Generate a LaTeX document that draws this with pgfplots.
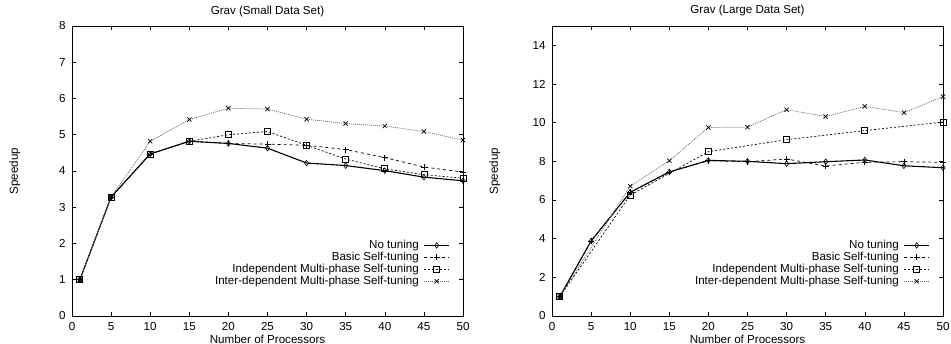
\documentclass[border=0pt]{standalone}
\usepackage{pgfplots}
\pgfplotsset{compat=1.18}
\usepackage{fontspec}
\setmainfont{Liberation Sans}
\begin{document}
\begin{tikzpicture}
\path[use as bounding box] (0pt,0pt) rectangle (951pt,343pt);
\pgfplotsset{
 myaxis/.style={
  scale only axis, width=391pt, height=290pt,
  xmin=0, xmax=50, ymin=0,
  xtick={0,5,...,50},
  tick align=inside, major tick length=4pt,
  axis line style={line width=0.9pt},
  every tick/.style={line width=0.6pt, black},
  font=\fontsize{11.6}{13}\selectfont,
  /pgf/number format/assume math mode=true,
  yticklabel style={xshift=-3pt},
  xticklabel style={yshift=-2.5pt},
  xlabel={Number of Processors},
  ylabel={Speedup},
  xlabel style={at={(axis description cs:0.5,0)}, anchor=center, yshift=-23pt},
  ylabel style={at={(axis description cs:-0.146,0.5)}, anchor=center},
  title style={at={(axis description cs:0.5,1)}, anchor=center, yshift=9pt},
  legend cell align=right,
  legend plot pos=right,
  legend style={draw=none, fill=none, at={(axis description cs:0.975,0.272)}, anchor=north east,
    font=\fontsize{11.6}{13}\selectfont, row sep=0pt, column sep=4pt,
    nodes={inner sep=0.5pt, text height=8.5pt, text depth=2.5pt}},
 },
 s1/.style={black, line width=1.1pt, mark=diamond, mark size=2.8pt, mark options={solid, line width=0.6pt},
   legend image code/.code={\draw[mark repeat=2,mark phase=2,##1] plot coordinates {(0cm,0cm) (0.45cm,0cm) (0.9cm,0cm)};}},
 s2/.style={black, line width=0.7pt, dashed, mark=+, mark size=3pt, mark options={solid, line width=0.7pt},
   legend image code/.code={\draw[mark repeat=2,mark phase=2,##1] plot coordinates {(0cm,0cm) (0.45cm,0cm) (0.9cm,0cm)};}},
 s3/.style={black, line width=0.7pt, dash pattern=on 2pt off 2pt, mark=square, mark size=3pt, mark options={solid, line width=0.7pt},
   legend image code/.code={\draw[mark repeat=2,mark phase=2,##1] plot coordinates {(0cm,0cm) (0.45cm,0cm) (0.9cm,0cm)};}},
 s4/.style={black!60, line width=0.7pt, dash pattern=on 1pt off 1pt, mark=x, mark size=3pt, mark options={solid, black, line width=0.7pt},
   legend image code/.code={\draw[mark repeat=2,mark phase=2,##1] plot coordinates {(0cm,0cm) (0.45cm,0cm) (0.9cm,0cm)};}},
}
\begin{axis}[myaxis, at={(72pt,27pt)}, anchor=south west, ymax=8, ytick={0,1,...,8},
  title={Grav (Small Data Set)}]
\addplot[s1] coordinates {(1,1) (5,3.28) (10,4.47) (15,4.82) (20,4.76) (25,4.63) (30,4.22) (35,4.15) (40,4.01) (45,3.83) (50,3.73)};
\addlegendentry{No tuning}
\addplot[s2] coordinates {(1,1) (5,3.28) (10,4.47) (15,4.82) (20,4.76) (25,4.74) (30,4.71) (35,4.59) (40,4.37) (45,4.11) (50,3.97)};
\addlegendentry{Basic Self-tuning}
\addplot[s3] coordinates {(1,1) (5,3.28) (10,4.47) (15,4.82) (20,5.00) (25,5.09) (30,4.71) (35,4.33) (40,4.06) (45,3.90) (50,3.80)};
\addlegendentry{Independent Multi-phase Self-tuning}
\addplot[s4] coordinates {(1,1) (5,3.28) (10,4.82) (15,5.42) (20,5.73) (25,5.71) (30,5.43) (35,5.31) (40,5.24) (45,5.09) (50,4.85)};
\addlegendentry{Inter-dependent Multi-phase Self-tuning}
\end{axis}
\begin{axis}[myaxis, at={(552pt,27pt)}, anchor=south west, ymax=15, ytick={0,2,...,14},
  title={Grav (Large Data Set)}]
\addplot[s1] coordinates {(1,1) (5,3.88) (10,6.40) (15,7.45) (20,8.05) (25,8.00) (30,7.88) (35,7.98) (40,8.07) (45,7.77) (50,7.67)};
\addlegendentry{No tuning}
\addplot[s2] coordinates {(1,1) (5,3.88) (10,6.40) (15,7.45) (20,8.03) (25,7.98) (30,8.12) (35,7.76) (40,7.95) (45,7.98) (50,7.95)};
\addlegendentry{Basic Self-tuning}
\addplot[s3] coordinates {(1,1) (10,6.25) (20,8.50) (30,9.12) (40,9.59) (50,10.03)};
\addlegendentry{Independent Multi-phase Self-tuning}
\addplot[s4] coordinates {(1,1) (10,6.72) (15,8.03) (20,9.75) (25,9.77) (30,10.67) (35,10.32) (40,10.84) (45,10.52) (50,11.35)};
\addlegendentry{Inter-dependent Multi-phase Self-tuning}
\end{axis}
\end{tikzpicture}
\end{document}
